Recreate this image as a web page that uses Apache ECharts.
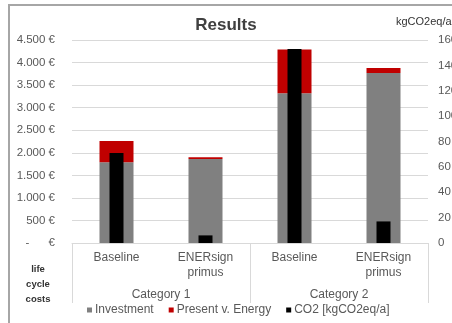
<!DOCTYPE html>
<html><head><meta charset="utf-8">
<script src="https://cdn.jsdelivr.net/npm/echarts@6/dist/echarts.min.js"></script>
<style>html,body{margin:0;padding:0;background:#fff}#c{width:452px;height:323px}</style>
</head><body><div id="c"></div>
<script>
const categories = ['Baseline', 'ENERsign\nprimus', 'Baseline', 'ENERsign\nprimus'];
const groups = ['Category 1', 'Category 2'];
const investment = [1790, 1860, 3320, 3770];
const presentEnergy = [470, 40, 970, 110];
const co2 = [71, 6, 153, 17];
const seriesNames = ['Investment', 'Present v. Energy', 'CO2 [kgCO2eq/a]'];

const chart = echarts.init(document.getElementById('c'), null, {renderer: 'canvas'});
const txt = '#595959';
const font = 'Liberation Sans';
chart.setOption({
  animation: false,
  textStyle: {fontFamily: font},
  title: {text: 'Results', left: 'center', top: 12, textStyle: {fontFamily: font, fontSize: 17, fontWeight: 'bold', color: '#404040'}},
  graphic: [
    {type: 'rect', shape: {x: 9, y: 5, width: 460, height: 330}, style: {fill: 'none', stroke: '#a6a6a6', lineWidth: 2}, silent: true},
    {type: 'text', x: 396, y: 16, style: {text: 'kgCO2eq/a', fontFamily: font, fontSize: 11, fill: '#333'}},
    {type: 'text', x: 38, y: 262, style: {text: 'life\ncycle\ncosts', fontFamily: font, fontSize: 9.5, fontWeight: 'bold', fill: '#333', align: 'center', lineHeight: 15}}
  ],
  legend: {
    bottom: 2, left: 82, itemWidth: 5, itemHeight: 5, itemGap: 15,
    icon: 'rect',
    textStyle: {fontFamily: font, fontSize: 12, color: txt, padding: [0, 0, 0, -2]},
    data: seriesNames
  },
  grid: {left: 72, right: 24, top: 40, bottom: 80, containLabel: false, outerBoundsMode: 'none'},
  xAxis: [
    {type: 'category', data: categories, position: 'bottom',
     axisLine: {lineStyle: {color: '#d9d9d9'}}, axisTick: {show: false},
     axisLabel: {color: txt, fontSize: 12, margin: 7, lineHeight: 15, interval: 0}},
    {type: 'category', data: categories, show: false},
    {type: 'category', data: groups, position: 'bottom',
     axisLine: {show: false}, axisTick: {show: true, length: 60, lineStyle: {color: '#d9d9d9'}},
     axisLabel: {color: txt, fontSize: 12, margin: 46}}
  ],
  yAxis: [
    {type: 'value', min: 0, max: 4500, interval: 500,
     splitLine: {lineStyle: {color: '#d9d9d9'}}, axisLine: {show: false},
     axisLabel: {color: txt, fontSize: 11.5, margin: 17,
       formatter: v => v === 0 ? '-      €' : (v >= 1000 ? Math.floor(v/1000) + '.' + String(v%1000).padStart(3,'0') : String(v)) + ' €'}},
    {type: 'value', min: 0, max: 160, interval: 20, position: 'right',
     splitLine: {show: false}, axisLine: {show: false},
     axisLabel: {color: txt, fontSize: 11.5, margin: 9, align: 'left', padding: [0, 0, 0, 1]}}
  ],
  series: [
    {name: seriesNames[0], type: 'bar', stack: 'c', data: investment, barWidth: 34, itemStyle: {color: '#808080'}, xAxisIndex: 0, yAxisIndex: 0},
    {name: seriesNames[1], type: 'bar', stack: 'c', data: presentEnergy, barWidth: 34, itemStyle: {color: '#c00000'}, xAxisIndex: 0, yAxisIndex: 0},
    {name: seriesNames[2], type: 'bar', data: co2, barWidth: 14, itemStyle: {color: '#000'}, xAxisIndex: 1, yAxisIndex: 1, z: 5}
  ]
});
</script></body></html>
